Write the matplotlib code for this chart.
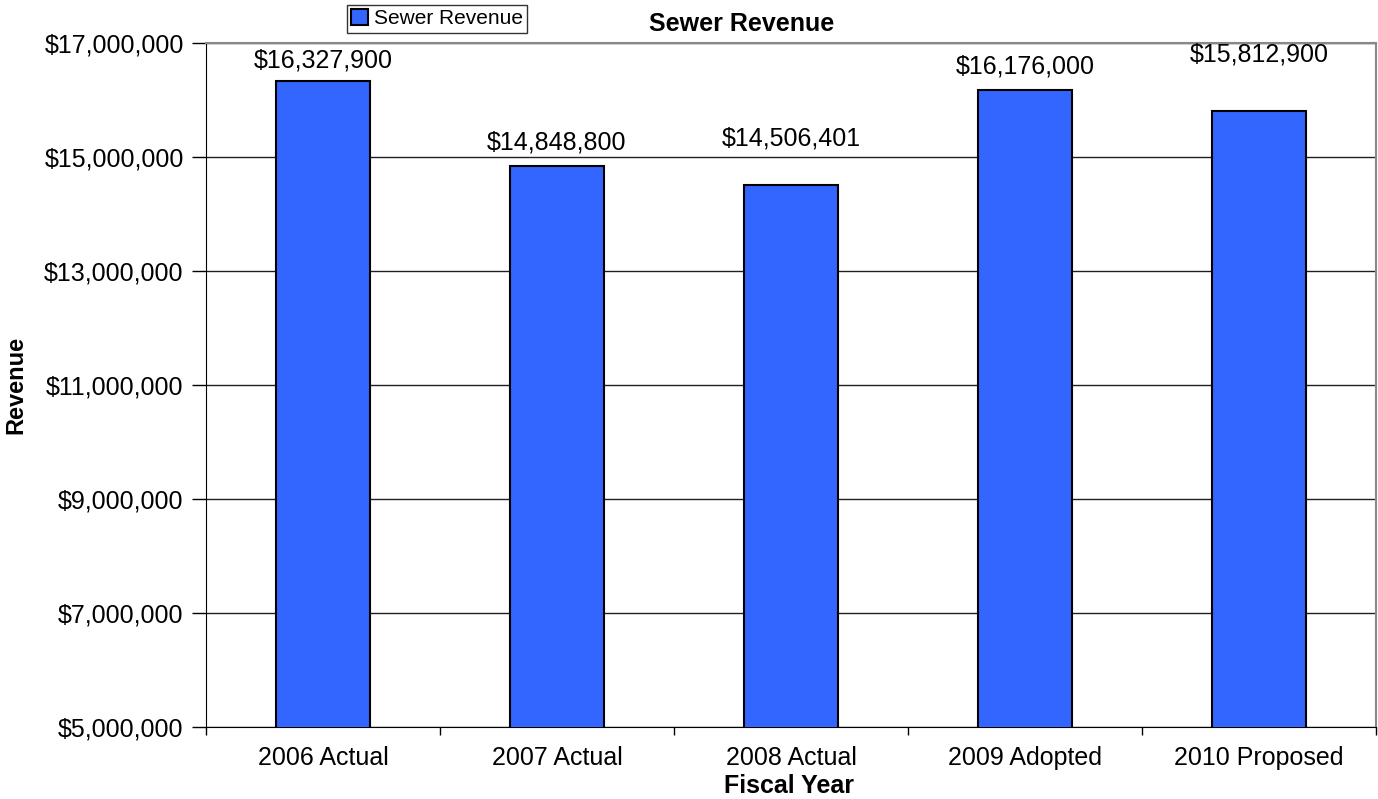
import matplotlib.pyplot as plt
import numpy as np

plt.rcParams['font.family'] = ['Liberation Sans', 'DejaVu Sans']

# Sewer revenue by fiscal year
years = ['2006 Actual', '2007 Actual', '2008 Actual', '2009 Adopted', '2010 Proposed']
revenue = [16327900, 14848800, 14506401, 16176000, 15812900]
yticks = [5000000, 7000000, 9000000, 11000000, 13000000, 15000000, 17000000]

# label heights above each bar (pixels)
label_lift = [21, 23, 47, 23, 56]

fig = plt.figure(figsize=(13.78, 7.99), dpi=100)
ax = fig.add_axes([206 / 1378, 1 - 727 / 799, 1170 / 1378, 684 / 799])

x = np.arange(len(years))
bars = ax.bar(x, revenue, width=0.4, color='#3366FF', edgecolor='black',
              linewidth=1.5, zorder=3, label='Sewer Revenue')

for xi, v, lift in zip(x, revenue, label_lift):
    ax.annotate('${:,.0f}'.format(v), (xi, v), xytext=(0, lift * 0.72),
                textcoords='offset points', ha='center', va='center',
                fontsize=18, annotation_clip=False)

ax.set_xlim(-0.5, len(years) - 0.5)
ax.set_ylim(5000000, 17000000)
ax.set_yticks(yticks)
ax.set_yticklabels(['${:,.0f}'.format(t) for t in yticks], fontsize=18)
ax.yaxis.grid(True, color='#202020', linewidth=1, zorder=0)
ax.tick_params(axis='y', direction='out', length=10, width=1, pad=6)

# category labels centered, tick marks on the boundaries
ax.set_xticks(x)
ax.set_xticklabels(years, fontsize=18)
ax.set_xticks(np.arange(len(years) + 1) - 0.5, minor=True)
ax.tick_params(axis='x', which='major', length=0, pad=14)
ax.tick_params(axis='x', which='minor', direction='out', length=6, width=1)

ax.spines['top'].set_color('#888888')
ax.spines['right'].set_color('#888888')
ax.spines['top'].set_linewidth(1.5)
ax.spines['right'].set_linewidth(1.5)

fig.text(742 / 1378, 1 - 24 / 799, 'Sewer Revenue', ha='center', va='center',
         fontsize=18, fontweight='bold')
fig.text(789 / 1378, 1 - 786 / 799, 'Fiscal Year', ha='center', va='center',
         fontsize=18, fontweight='bold')
fig.text(16 / 1378, 1 - 385 / 799, 'Revenue', ha='center', va='center',
         rotation=90, fontsize=17, fontweight='bold')

fig.legend(handles=[bars], loc='upper left', bbox_to_anchor=(347 / 1378, 1 - 5 / 799),
           fontsize=15, frameon=True, fancybox=False, edgecolor='black',
           borderaxespad=0, borderpad=0.2, handlelength=0.8, handleheight=0.8,
           handletextpad=0.3)

fig.savefig('out.png', dpi=100)
